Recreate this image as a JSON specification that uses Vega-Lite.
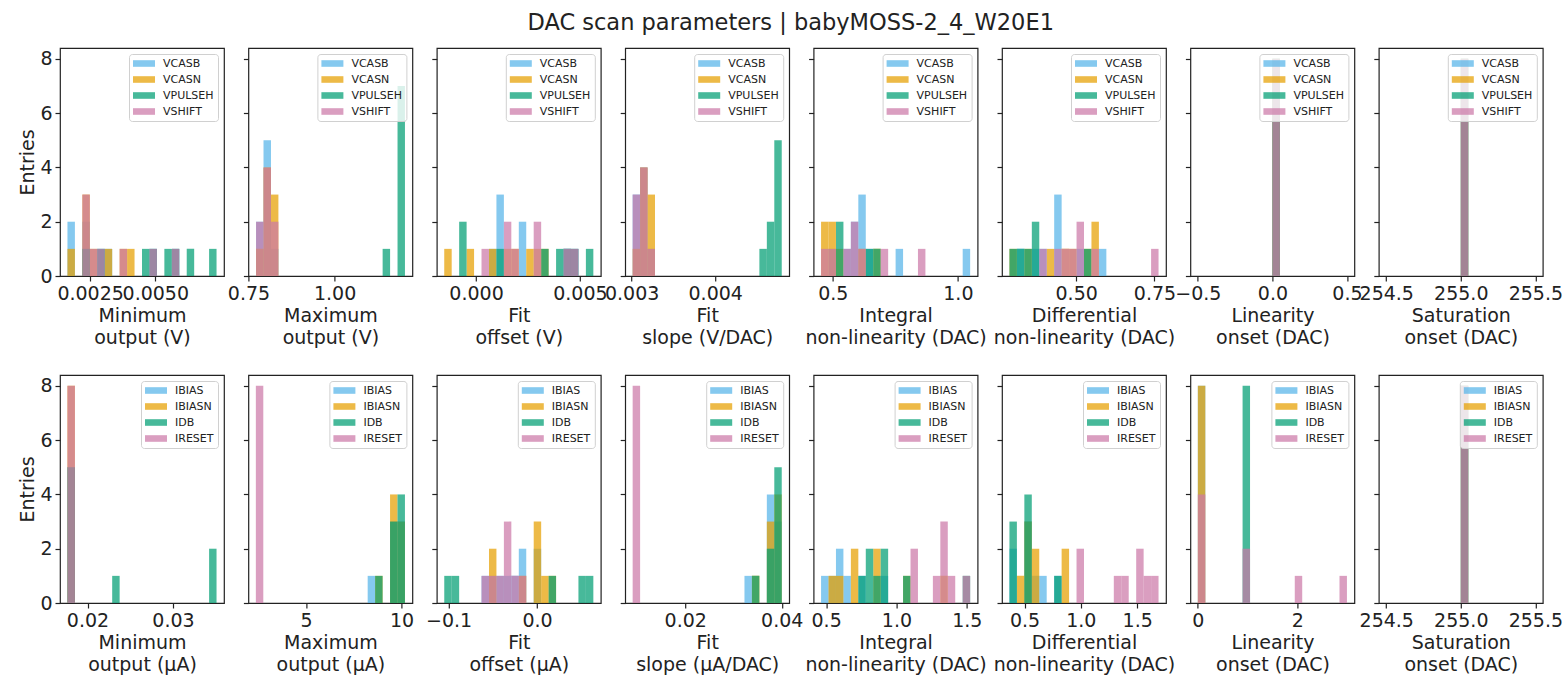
{
  "$schema": "https://vega.github.io/schema/vega-lite/v6.json",
  "padding": {"left": 18, "top": 11, "right": 5, "bottom": 5},
  "title": {"text": "DAC scan parameters | babyMOSS-2_4_W20E1", "fontSize": 22.5, "fontWeight": "normal", "color": "#222", "anchor": "middle", "offset": 13},
  "data": {"name": "h"},
  "datasets": {
    "h": [
      {"p":"T1","s":"VCASB","x0":0.00163,"x1":0.001916,"n":2},
      {"p":"T1","s":"VCASB","x0":0.002202,"x1":0.002488,"n":2},
      {"p":"T1","s":"VCASB","x0":0.002774,"x1":0.00306,"n":1},
      {"p":"T1","s":"VCASB","x0":0.00306,"x1":0.003346,"n":1},
      {"p":"T1","s":"VCASB","x0":0.004776,"x1":0.005062,"n":1},
      {"p":"T1","s":"VCASB","x0":0.005634,"x1":0.00592,"n":1},
      {"p":"T1","s":"VCASN","x0":0.00163,"x1":0.001916,"n":1},
      {"p":"T1","s":"VCASN","x0":0.002202,"x1":0.002488,"n":3},
      {"p":"T1","s":"VCASN","x0":0.002488,"x1":0.002774,"n":1},
      {"p":"T1","s":"VCASN","x0":0.00306,"x1":0.003346,"n":1},
      {"p":"T1","s":"VCASN","x0":0.003632,"x1":0.003918,"n":1},
      {"p":"T1","s":"VCASN","x0":0.003918,"x1":0.004204,"n":1},
      {"p":"T1","s":"VPULSEH","x0":0.002202,"x1":0.002488,"n":1},
      {"p":"T1","s":"VPULSEH","x0":0.002774,"x1":0.00306,"n":1},
      {"p":"T1","s":"VPULSEH","x0":0.00449,"x1":0.004776,"n":1},
      {"p":"T1","s":"VPULSEH","x0":0.004776,"x1":0.005062,"n":1},
      {"p":"T1","s":"VPULSEH","x0":0.005348,"x1":0.005634,"n":1},
      {"p":"T1","s":"VPULSEH","x0":0.005634,"x1":0.00592,"n":1},
      {"p":"T1","s":"VPULSEH","x0":0.006206,"x1":0.006492,"n":1},
      {"p":"T1","s":"VPULSEH","x0":0.007064,"x1":0.00735,"n":1},
      {"p":"T1","s":"VSHIFT","x0":0.002202,"x1":0.002488,"n":3},
      {"p":"T1","s":"VSHIFT","x0":0.002488,"x1":0.002774,"n":1},
      {"p":"T1","s":"VSHIFT","x0":0.002774,"x1":0.00306,"n":1},
      {"p":"T1","s":"VSHIFT","x0":0.003632,"x1":0.003918,"n":1},
      {"p":"T1","s":"VSHIFT","x0":0.004776,"x1":0.005062,"n":1},
      {"p":"T1","s":"VSHIFT","x0":0.005634,"x1":0.00592,"n":1},

      {"p":"T2","s":"VCASB","x0":0.772,"x1":0.7936,"n":2},
      {"p":"T2","s":"VCASB","x0":0.7936,"x1":0.8153,"n":5},
      {"p":"T2","s":"VCASB","x0":0.8153,"x1":0.8369,"n":1},
      {"p":"T2","s":"VCASN","x0":0.772,"x1":0.7936,"n":1},
      {"p":"T2","s":"VCASN","x0":0.7936,"x1":0.8153,"n":4},
      {"p":"T2","s":"VCASN","x0":0.8153,"x1":0.8369,"n":3},
      {"p":"T2","s":"VPULSEH","x0":1.1396,"x1":1.1613,"n":1},
      {"p":"T2","s":"VPULSEH","x0":1.1829,"x1":1.2045,"n":7},
      {"p":"T2","s":"VSHIFT","x0":0.772,"x1":0.7936,"n":2},
      {"p":"T2","s":"VSHIFT","x0":0.7936,"x1":0.8153,"n":4},
      {"p":"T2","s":"VSHIFT","x0":0.8153,"x1":0.8369,"n":2},

      {"p":"T3","s":"VCASB","x0":0.000621,"x1":0.00098,"n":1},
      {"p":"T3","s":"VCASB","x0":0.00098,"x1":0.001339,"n":3},
      {"p":"T3","s":"VCASB","x0":0.002057,"x1":0.002415,"n":2},
      {"p":"T3","s":"VCASB","x0":0.00421,"x1":0.004568,"n":1},
      {"p":"T3","s":"VCASB","x0":0.004568,"x1":0.004927,"n":1},
      {"p":"T3","s":"VCASN","x0":-0.001532,"x1":-0.001173,"n":1},
      {"p":"T3","s":"VCASN","x0":-0.000455,"x1":-0.000096,"n":1},
      {"p":"T3","s":"VCASN","x0":0.000621,"x1":0.00098,"n":1},
      {"p":"T3","s":"VCASN","x0":0.001339,"x1":0.001697,"n":1},
      {"p":"T3","s":"VCASN","x0":0.001697,"x1":0.002057,"n":1},
      {"p":"T3","s":"VCASN","x0":0.002415,"x1":0.002774,"n":1},
      {"p":"T3","s":"VCASN","x0":0.002774,"x1":0.003133,"n":1},
      {"p":"T3","s":"VCASN","x0":0.003133,"x1":0.003492,"n":1},
      {"p":"T3","s":"VPULSEH","x0":-0.000814,"x1":-0.000455,"n":2},
      {"p":"T3","s":"VPULSEH","x0":0.00098,"x1":0.001339,"n":1},
      {"p":"T3","s":"VPULSEH","x0":0.003133,"x1":0.003492,"n":1},
      {"p":"T3","s":"VPULSEH","x0":0.003851,"x1":0.00421,"n":1},
      {"p":"T3","s":"VPULSEH","x0":0.00421,"x1":0.004568,"n":1},
      {"p":"T3","s":"VPULSEH","x0":0.004568,"x1":0.004927,"n":1},
      {"p":"T3","s":"VPULSEH","x0":0.005286,"x1":0.005645,"n":1},
      {"p":"T3","s":"VSHIFT","x0":0.000262,"x1":0.000621,"n":1},
      {"p":"T3","s":"VSHIFT","x0":0.001339,"x1":0.001697,"n":2},
      {"p":"T3","s":"VSHIFT","x0":0.001697,"x1":0.002057,"n":1},
      {"p":"T3","s":"VSHIFT","x0":0.002774,"x1":0.003133,"n":2},
      {"p":"T3","s":"VSHIFT","x0":0.00421,"x1":0.004568,"n":1},
      {"p":"T3","s":"VSHIFT","x0":0.004568,"x1":0.004927,"n":1},

      {"p":"T4","s":"VCASB","x0":0.003012,"x1":0.0031012,"n":3},
      {"p":"T4","s":"VCASB","x0":0.0031012,"x1":0.0031904,"n":4},
      {"p":"T4","s":"VCASB","x0":0.0031904,"x1":0.0032796,"n":1},
      {"p":"T4","s":"VCASN","x0":0.003012,"x1":0.0031012,"n":1},
      {"p":"T4","s":"VCASN","x0":0.0031012,"x1":0.0031904,"n":4},
      {"p":"T4","s":"VCASN","x0":0.0031904,"x1":0.0032796,"n":3},
      {"p":"T4","s":"VPULSEH","x0":0.0045284,"x1":0.0046176,"n":1},
      {"p":"T4","s":"VPULSEH","x0":0.0046176,"x1":0.0047068,"n":2},
      {"p":"T4","s":"VPULSEH","x0":0.0047068,"x1":0.004796,"n":5},
      {"p":"T4","s":"VSHIFT","x0":0.003012,"x1":0.0031012,"n":3},
      {"p":"T4","s":"VSHIFT","x0":0.0031012,"x1":0.0031904,"n":4},
      {"p":"T4","s":"VSHIFT","x0":0.0031904,"x1":0.0032796,"n":1},

      {"p":"T5","s":"VCASB","x0":0.4831,"x1":0.5129,"n":1},
      {"p":"T5","s":"VCASB","x0":0.5427,"x1":0.5724,"n":1},
      {"p":"T5","s":"VCASB","x0":0.5724,"x1":0.6022,"n":2},
      {"p":"T5","s":"VCASB","x0":0.6022,"x1":0.632,"n":3},
      {"p":"T5","s":"VCASB","x0":0.632,"x1":0.6618,"n":1},
      {"p":"T5","s":"VCASB","x0":0.7512,"x1":0.781,"n":1},
      {"p":"T5","s":"VCASB","x0":1.0192,"x1":1.049,"n":1},
      {"p":"T5","s":"VCASN","x0":0.4533,"x1":0.4831,"n":2},
      {"p":"T5","s":"VCASN","x0":0.4831,"x1":0.5129,"n":2},
      {"p":"T5","s":"VCASN","x0":0.5129,"x1":0.5427,"n":1},
      {"p":"T5","s":"VCASN","x0":0.6022,"x1":0.632,"n":1},
      {"p":"T5","s":"VCASN","x0":0.6618,"x1":0.6916,"n":1},
      {"p":"T5","s":"VPULSEH","x0":0.5129,"x1":0.5427,"n":2},
      {"p":"T5","s":"VPULSEH","x0":0.632,"x1":0.6618,"n":1},
      {"p":"T5","s":"VPULSEH","x0":0.6618,"x1":0.6916,"n":1},
      {"p":"T5","s":"VSHIFT","x0":0.4533,"x1":0.4831,"n":1},
      {"p":"T5","s":"VSHIFT","x0":0.4831,"x1":0.5129,"n":1},
      {"p":"T5","s":"VSHIFT","x0":0.5427,"x1":0.5724,"n":1},
      {"p":"T5","s":"VSHIFT","x0":0.5724,"x1":0.6022,"n":2},
      {"p":"T5","s":"VSHIFT","x0":0.6022,"x1":0.632,"n":1},
      {"p":"T5","s":"VSHIFT","x0":0.6916,"x1":0.7214,"n":1},
      {"p":"T5","s":"VSHIFT","x0":0.8405,"x1":0.8703,"n":1},

      {"p":"T6","s":"VCASB","x0":0.3108,"x1":0.3346,"n":1},
      {"p":"T6","s":"VCASB","x0":0.3584,"x1":0.3822,"n":1},
      {"p":"T6","s":"VCASB","x0":0.3822,"x1":0.406,"n":1},
      {"p":"T6","s":"VCASB","x0":0.4298,"x1":0.4536,"n":3},
      {"p":"T6","s":"VCASB","x0":0.5012,"x1":0.525,"n":1},
      {"p":"T6","s":"VCASB","x0":0.5726,"x1":0.5964,"n":1},
      {"p":"T6","s":"VCASN","x0":0.287,"x1":0.3108,"n":1},
      {"p":"T6","s":"VCASN","x0":0.3346,"x1":0.3584,"n":1},
      {"p":"T6","s":"VCASN","x0":0.406,"x1":0.4298,"n":1},
      {"p":"T6","s":"VCASN","x0":0.4536,"x1":0.4774,"n":1},
      {"p":"T6","s":"VCASN","x0":0.4774,"x1":0.5012,"n":1},
      {"p":"T6","s":"VCASN","x0":0.525,"x1":0.5488,"n":1},
      {"p":"T6","s":"VCASN","x0":0.5488,"x1":0.5726,"n":2},
      {"p":"T6","s":"VPULSEH","x0":0.287,"x1":0.3108,"n":1},
      {"p":"T6","s":"VPULSEH","x0":0.3108,"x1":0.3346,"n":1},
      {"p":"T6","s":"VPULSEH","x0":0.3346,"x1":0.3584,"n":1},
      {"p":"T6","s":"VPULSEH","x0":0.3584,"x1":0.3822,"n":2},
      {"p":"T6","s":"VPULSEH","x0":0.525,"x1":0.5488,"n":1},
      {"p":"T6","s":"VSHIFT","x0":0.3822,"x1":0.406,"n":1},
      {"p":"T6","s":"VSHIFT","x0":0.4298,"x1":0.4536,"n":1},
      {"p":"T6","s":"VSHIFT","x0":0.4536,"x1":0.4774,"n":1},
      {"p":"T6","s":"VSHIFT","x0":0.4774,"x1":0.5012,"n":1},
      {"p":"T6","s":"VSHIFT","x0":0.5012,"x1":0.525,"n":2},
      {"p":"T6","s":"VSHIFT","x0":0.5488,"x1":0.5726,"n":1},
      {"p":"T6","s":"VSHIFT","x0":0.7392,"x1":0.763,"n":1},

      {"p":"T7","s":"VCASB","x0":0,"x1":0.05,"n":8},
      {"p":"T7","s":"VCASN","x0":0,"x1":0.05,"n":8},
      {"p":"T7","s":"VPULSEH","x0":0,"x1":0.05,"n":8},
      {"p":"T7","s":"VSHIFT","x0":0,"x1":0.05,"n":8},

      {"p":"T8","s":"VCASB","x0":255,"x1":255.05,"n":8},
      {"p":"T8","s":"VCASN","x0":255,"x1":255.05,"n":8},
      {"p":"T8","s":"VPULSEH","x0":255,"x1":255.05,"n":8},
      {"p":"T8","s":"VSHIFT","x0":255,"x1":255.05,"n":8},

      {"p":"B1","s":"IBIAS","x0":0.01765,"x1":0.018523,"n":5},
      {"p":"B1","s":"IBIASN","x0":0.01765,"x1":0.018523,"n":8},
      {"p":"B1","s":"IDB","x0":0.01765,"x1":0.018523,"n":5},
      {"p":"B1","s":"IDB","x0":0.022885,"x1":0.023758,"n":1},
      {"p":"B1","s":"IDB","x0":0.034228,"x1":0.0351,"n":2},
      {"p":"B1","s":"IRESET","x0":0.01765,"x1":0.018523,"n":8},

      {"p":"B2","s":"IBIAS","x0":8.223,"x1":8.614,"n":1},
      {"p":"B2","s":"IBIAS","x0":9.395,"x1":9.785,"n":3},
      {"p":"B2","s":"IBIAS","x0":9.785,"x1":10.175,"n":3},
      {"p":"B2","s":"IBIASN","x0":8.614,"x1":9.004,"n":1},
      {"p":"B2","s":"IBIASN","x0":9.395,"x1":9.785,"n":4},
      {"p":"B2","s":"IBIASN","x0":9.785,"x1":10.175,"n":3},
      {"p":"B2","s":"IDB","x0":8.614,"x1":9.004,"n":1},
      {"p":"B2","s":"IDB","x0":9.395,"x1":9.785,"n":3},
      {"p":"B2","s":"IDB","x0":9.785,"x1":10.175,"n":4},
      {"p":"B2","s":"IRESET","x0":2.368,"x1":2.758,"n":8},

      {"p":"B3","s":"IBIAS","x0":-0.062775,"x1":-0.05435,"n":1},
      {"p":"B3","s":"IBIAS","x0":-0.05435,"x1":-0.045925,"n":1},
      {"p":"B3","s":"IBIAS","x0":-0.045925,"x1":-0.0375,"n":1},
      {"p":"B3","s":"IBIAS","x0":-0.0375,"x1":-0.029075,"n":1},
      {"p":"B3","s":"IBIAS","x0":-0.029075,"x1":-0.02065,"n":1},
      {"p":"B3","s":"IBIAS","x0":-0.02065,"x1":-0.012225,"n":2},
      {"p":"B3","s":"IBIAS","x0":-0.0038,"x1":0.004625,"n":2},
      {"p":"B3","s":"IBIASN","x0":-0.05435,"x1":-0.045925,"n":2},
      {"p":"B3","s":"IBIASN","x0":-0.02065,"x1":-0.012225,"n":1},
      {"p":"B3","s":"IBIASN","x0":-0.0038,"x1":0.004625,"n":3},
      {"p":"B3","s":"IBIASN","x0":0.004625,"x1":0.01305,"n":1},
      {"p":"B3","s":"IBIASN","x0":0.01305,"x1":0.021475,"n":1},
      {"p":"B3","s":"IDB","x0":-0.1049,"x1":-0.096475,"n":1},
      {"p":"B3","s":"IDB","x0":-0.096475,"x1":-0.08805,"n":1},
      {"p":"B3","s":"IDB","x0":0.01305,"x1":0.021475,"n":1},
      {"p":"B3","s":"IDB","x0":0.04675,"x1":0.055175,"n":1},
      {"p":"B3","s":"IDB","x0":0.055175,"x1":0.0636,"n":1},
      {"p":"B3","s":"IRESET","x0":-0.062775,"x1":-0.05435,"n":1},
      {"p":"B3","s":"IRESET","x0":-0.05435,"x1":-0.045925,"n":1},
      {"p":"B3","s":"IRESET","x0":-0.045925,"x1":-0.0375,"n":1},
      {"p":"B3","s":"IRESET","x0":-0.0375,"x1":-0.029075,"n":3},
      {"p":"B3","s":"IRESET","x0":-0.029075,"x1":-0.02065,"n":1},
      {"p":"B3","s":"IRESET","x0":-0.02065,"x1":-0.012225,"n":1},

      {"p":"B4","s":"IBIAS","x0":0.032275,"x1":0.03382,"n":1},
      {"p":"B4","s":"IBIAS","x0":0.03691,"x1":0.038455,"n":4},
      {"p":"B4","s":"IBIAS","x0":0.038455,"x1":0.04,"n":3},
      {"p":"B4","s":"IBIASN","x0":0.03382,"x1":0.035365,"n":1},
      {"p":"B4","s":"IBIASN","x0":0.03691,"x1":0.038455,"n":3},
      {"p":"B4","s":"IBIASN","x0":0.038455,"x1":0.04,"n":4},
      {"p":"B4","s":"IDB","x0":0.03382,"x1":0.035365,"n":1},
      {"p":"B4","s":"IDB","x0":0.03691,"x1":0.038455,"n":2},
      {"p":"B4","s":"IDB","x0":0.038455,"x1":0.04,"n":5},
      {"p":"B4","s":"IRESET","x0":0.0091,"x1":0.010645,"n":8},

      {"p":"B5","s":"IBIAS","x0":0.464,"x1":0.517,"n":1},
      {"p":"B5","s":"IBIAS","x0":0.517,"x1":0.57,"n":1},
      {"p":"B5","s":"IBIAS","x0":0.57,"x1":0.623,"n":2},
      {"p":"B5","s":"IBIAS","x0":0.623,"x1":0.676,"n":1},
      {"p":"B5","s":"IBIAS","x0":0.729,"x1":0.782,"n":1},
      {"p":"B5","s":"IBIAS","x0":0.888,"x1":0.941,"n":1},
      {"p":"B5","s":"IBIASN","x0":0.517,"x1":0.57,"n":1},
      {"p":"B5","s":"IBIASN","x0":0.57,"x1":0.623,"n":1},
      {"p":"B5","s":"IBIASN","x0":0.676,"x1":0.729,"n":2},
      {"p":"B5","s":"IBIASN","x0":0.835,"x1":0.888,"n":2},
      {"p":"B5","s":"IBIASN","x0":1.047,"x1":1.1,"n":1},
      {"p":"B5","s":"IBIASN","x0":1.312,"x1":1.365,"n":1},
      {"p":"B5","s":"IDB","x0":0.729,"x1":0.782,"n":1},
      {"p":"B5","s":"IDB","x0":0.782,"x1":0.835,"n":2},
      {"p":"B5","s":"IDB","x0":0.835,"x1":0.888,"n":1},
      {"p":"B5","s":"IDB","x0":0.888,"x1":0.941,"n":2},
      {"p":"B5","s":"IDB","x0":1.047,"x1":1.1,"n":1},
      {"p":"B5","s":"IDB","x0":1.471,"x1":1.524,"n":1},
      {"p":"B5","s":"IRESET","x0":1.1,"x1":1.153,"n":2},
      {"p":"B5","s":"IRESET","x0":1.259,"x1":1.312,"n":1},
      {"p":"B5","s":"IRESET","x0":1.312,"x1":1.365,"n":3},
      {"p":"B5","s":"IRESET","x0":1.365,"x1":1.418,"n":1},
      {"p":"B5","s":"IRESET","x0":1.471,"x1":1.524,"n":1},

      {"p":"B6","s":"IBIAS","x0":0.366,"x1":0.4322,"n":2},
      {"p":"B6","s":"IBIAS","x0":0.4984,"x1":0.5646,"n":3},
      {"p":"B6","s":"IBIAS","x0":0.5646,"x1":0.6308,"n":1},
      {"p":"B6","s":"IBIAS","x0":0.6308,"x1":0.697,"n":1},
      {"p":"B6","s":"IBIAS","x0":0.7632,"x1":0.8294,"n":1},
      {"p":"B6","s":"IBIASN","x0":0.4322,"x1":0.4984,"n":1},
      {"p":"B6","s":"IBIASN","x0":0.4984,"x1":0.5646,"n":3},
      {"p":"B6","s":"IBIASN","x0":0.5646,"x1":0.6308,"n":2},
      {"p":"B6","s":"IBIASN","x0":0.8294,"x1":0.8956,"n":2},
      {"p":"B6","s":"IDB","x0":0.366,"x1":0.4322,"n":3},
      {"p":"B6","s":"IDB","x0":0.4984,"x1":0.5646,"n":4},
      {"p":"B6","s":"IDB","x0":0.7632,"x1":0.8294,"n":1},
      {"p":"B6","s":"IRESET","x0":0.9618,"x1":1.028,"n":2},
      {"p":"B6","s":"IRESET","x0":1.2928,"x1":1.359,"n":1},
      {"p":"B6","s":"IRESET","x0":1.359,"x1":1.4252,"n":1},
      {"p":"B6","s":"IRESET","x0":1.4914,"x1":1.5576,"n":2},
      {"p":"B6","s":"IRESET","x0":1.5576,"x1":1.6238,"n":1},
      {"p":"B6","s":"IRESET","x0":1.6238,"x1":1.69,"n":1},

      {"p":"B7","s":"IBIAS","x0":0,"x1":0.15,"n":8},
      {"p":"B7","s":"IBIASN","x0":0,"x1":0.15,"n":8},
      {"p":"B7","s":"IDB","x0":0.9,"x1":1.05,"n":8},
      {"p":"B7","s":"IRESET","x0":0,"x1":0.15,"n":4},
      {"p":"B7","s":"IRESET","x0":0.9,"x1":1.05,"n":2},
      {"p":"B7","s":"IRESET","x0":1.95,"x1":2.1,"n":1},
      {"p":"B7","s":"IRESET","x0":2.85,"x1":3.0,"n":1},

      {"p":"B8","s":"IBIAS","x0":255,"x1":255.05,"n":8},
      {"p":"B8","s":"IBIASN","x0":255,"x1":255.05,"n":8},
      {"p":"B8","s":"IDB","x0":255,"x1":255.05,"n":8},
      {"p":"B8","s":"IRESET","x0":255,"x1":255.05,"n":8}
    ]
  },
  "config": {
    "font": "DejaVu Sans",
    "view": {"stroke": "#222", "strokeWidth": 1.2},
    "axis": {"domain": false, "grid": false, "tickColor": "#222", "tickWidth": 1.2, "tickSize": 5, "labelFontSize": 19, "labelColor": "#222", "labelPadding": 3, "titleFontSize": 19, "titleFontWeight": "normal", "titleColor": "#222", "labelFlush": false, "labelOverlap": false, "labelBound": false, "titleLineHeight": 22},
    "axisX": {"titlePadding": 3},
    "axisY": {"titlePadding": 2},
    "legend": {"orient": "top-right", "offset": 6, "padding": 4, "fillColor": "rgba(255,255,255,0.8)", "strokeColor": "#d0d0d0", "cornerRadius": 3, "labelFontSize": 11, "labelColor": "#222", "symbolType": "M-1,-0.6H3V0.6H-1Z", "symbolSize": 121, "symbolOpacity": 0.72, "symbolStrokeWidth": 0, "rowPadding": 4, "labelOffset": 19}
  },
  "resolve": {"scale": {"color": "independent", "x": "independent", "y": "independent"}, "legend": {"color": "independent"}, "axis": {"x": "independent", "y": "independent"}},
  "spacing": 26,
  "vconcat": [
    {
      "bounds": "flush",
      "spacing": 24.4,
      "resolve": {"scale": {"color": "independent", "x": "independent", "y": "independent"}, "legend": {"color": "independent"}, "axis": {"x": "independent", "y": "independent"}},
      "hconcat": [
        {"width": 164, "height": 228, "transform": [{"filter": "datum.p === 'T1'"}], "mark": {"type": "rect", "opacity": 0.72},
         "encoding": {"x": {"field": "x0", "type": "quantitative", "scale": {"domain": [0.001344, 0.007636], "nice": false, "zero": false}, "axis": {"values": [0.0025, 0.005], "format": ".4f", "title": ["Minimum", "output (V)"]}},
          "x2": {"field": "x1"},
          "y": {"field": "n", "type": "quantitative", "scale": {"domain": [0, 8.4], "nice": false}, "axis": {"values": [0, 2, 4, 6, 8], "title": "Entries"}},
          "y2": {"datum": 0},
          "color": {"field": "s", "type": "nominal", "scale": {"domain": ["VCASB", "VCASN", "VPULSEH", "VSHIFT"], "range": ["#56B4E9", "#E69F00", "#009E73", "#CC79A7"]}, "legend": {"title": null}}}},
        {"width": 164, "height": 228, "transform": [{"filter": "datum.p === 'T2'"}], "mark": {"type": "rect", "opacity": 0.72},
         "encoding": {"x": {"field": "x0", "type": "quantitative", "scale": {"domain": [0.7497, 1.2261], "nice": false, "zero": false}, "axis": {"values": [0.75, 1.0], "format": ".2f", "title": ["Maximum", "output (V)"]}},
          "x2": {"field": "x1"},
          "y": {"field": "n", "type": "quantitative", "scale": {"domain": [0, 8.4], "nice": false}, "axis": {"values": [0, 2, 4, 6, 8], "labels": false, "title": null}},
          "y2": {"datum": 0},
          "color": {"field": "s", "type": "nominal", "scale": {"domain": ["VCASB", "VCASN", "VPULSEH", "VSHIFT"], "range": ["#56B4E9", "#E69F00", "#009E73", "#CC79A7"]}, "legend": {"title": null}}}},
        {"width": 164, "height": 228, "transform": [{"filter": "datum.p === 'T3'"}], "mark": {"type": "rect", "opacity": 0.72},
         "encoding": {"x": {"field": "x0", "type": "quantitative", "scale": {"domain": [-0.00189, 0.006004], "nice": false, "zero": false}, "axis": {"values": [0, 0.005], "format": ".3f", "title": ["Fit", "offset (V)"]}},
          "x2": {"field": "x1"},
          "y": {"field": "n", "type": "quantitative", "scale": {"domain": [0, 8.4], "nice": false}, "axis": {"values": [0, 2, 4, 6, 8], "labels": false, "title": null}},
          "y2": {"datum": 0},
          "color": {"field": "s", "type": "nominal", "scale": {"domain": ["VCASB", "VCASN", "VPULSEH", "VSHIFT"], "range": ["#56B4E9", "#E69F00", "#009E73", "#CC79A7"]}, "legend": {"title": null}}}},
        {"width": 164, "height": 228, "transform": [{"filter": "datum.p === 'T4'"}], "mark": {"type": "rect", "opacity": 0.72},
         "encoding": {"x": {"field": "x0", "type": "quantitative", "scale": {"domain": [0.0029228, 0.0048852], "nice": false, "zero": false}, "axis": {"values": [0.003, 0.004], "format": ".3f", "title": ["Fit", "slope (V/DAC)"]}},
          "x2": {"field": "x1"},
          "y": {"field": "n", "type": "quantitative", "scale": {"domain": [0, 8.4], "nice": false}, "axis": {"values": [0, 2, 4, 6, 8], "labels": false, "title": null}},
          "y2": {"datum": 0},
          "color": {"field": "s", "type": "nominal", "scale": {"domain": ["VCASB", "VCASN", "VPULSEH", "VSHIFT"], "range": ["#56B4E9", "#E69F00", "#009E73", "#CC79A7"]}, "legend": {"title": null}}}},
        {"width": 164, "height": 228, "transform": [{"filter": "datum.p === 'T5'"}], "mark": {"type": "rect", "opacity": 0.72},
         "encoding": {"x": {"field": "x0", "type": "quantitative", "scale": {"domain": [0.42352, 1.07878], "nice": false, "zero": false}, "axis": {"values": [0.5, 1.0], "format": ".1f", "title": ["Integral", "non-linearity (DAC)"]}},
          "x2": {"field": "x1"},
          "y": {"field": "n", "type": "quantitative", "scale": {"domain": [0, 8.4], "nice": false}, "axis": {"values": [0, 2, 4, 6, 8], "labels": false, "title": null}},
          "y2": {"datum": 0},
          "color": {"field": "s", "type": "nominal", "scale": {"domain": ["VCASB", "VCASN", "VPULSEH", "VSHIFT"], "range": ["#56B4E9", "#E69F00", "#009E73", "#CC79A7"]}, "legend": {"title": null}}}},
        {"width": 164, "height": 228, "transform": [{"filter": "datum.p === 'T6'"}], "mark": {"type": "rect", "opacity": 0.72},
         "encoding": {"x": {"field": "x0", "type": "quantitative", "scale": {"domain": [0.2632, 0.7868], "nice": false, "zero": false}, "axis": {"values": [0.5, 0.75], "format": ".2f", "title": ["Differential", "non-linearity (DAC)"]}},
          "x2": {"field": "x1"},
          "y": {"field": "n", "type": "quantitative", "scale": {"domain": [0, 8.4], "nice": false}, "axis": {"values": [0, 2, 4, 6, 8], "labels": false, "title": null}},
          "y2": {"datum": 0},
          "color": {"field": "s", "type": "nominal", "scale": {"domain": ["VCASB", "VCASN", "VPULSEH", "VSHIFT"], "range": ["#56B4E9", "#E69F00", "#009E73", "#CC79A7"]}, "legend": {"title": null}}}},
        {"width": 164, "height": 228, "transform": [{"filter": "datum.p === 'T7'"}], "mark": {"type": "rect", "opacity": 0.72},
         "encoding": {"x": {"field": "x0", "type": "quantitative", "scale": {"domain": [-0.55, 0.55], "nice": false, "zero": false}, "axis": {"values": [-0.5, 0, 0.5], "format": ".1f", "title": ["Linearity", "onset (DAC)"]}},
          "x2": {"field": "x1"},
          "y": {"field": "n", "type": "quantitative", "scale": {"domain": [0, 8.4], "nice": false}, "axis": {"values": [0, 2, 4, 6, 8], "labels": false, "title": null}},
          "y2": {"datum": 0},
          "color": {"field": "s", "type": "nominal", "scale": {"domain": ["VCASB", "VCASN", "VPULSEH", "VSHIFT"], "range": ["#56B4E9", "#E69F00", "#009E73", "#CC79A7"]}, "legend": {"title": null}}}},
        {"width": 164, "height": 228, "transform": [{"filter": "datum.p === 'T8'"}], "mark": {"type": "rect", "opacity": 0.72},
         "encoding": {"x": {"field": "x0", "type": "quantitative", "scale": {"domain": [254.45, 255.55], "nice": false, "zero": false}, "axis": {"values": [254.5, 255, 255.5], "format": ".1f", "title": ["Saturation", "onset (DAC)"]}},
          "x2": {"field": "x1"},
          "y": {"field": "n", "type": "quantitative", "scale": {"domain": [0, 8.4], "nice": false}, "axis": {"values": [0, 2, 4, 6, 8], "labels": false, "title": null}},
          "y2": {"datum": 0},
          "color": {"field": "s", "type": "nominal", "scale": {"domain": ["VCASB", "VCASN", "VPULSEH", "VSHIFT"], "range": ["#56B4E9", "#E69F00", "#009E73", "#CC79A7"]}, "legend": {"title": null}}}}
      ]
    },
    {
      "bounds": "flush",
      "spacing": 24.4,
      "resolve": {"scale": {"color": "independent", "x": "independent", "y": "independent"}, "legend": {"color": "independent"}, "axis": {"x": "independent", "y": "independent"}},
      "hconcat": [
        {"width": 164, "height": 228, "transform": [{"filter": "datum.p === 'B1'"}], "mark": {"type": "rect", "opacity": 0.72},
         "encoding": {"x": {"field": "x0", "type": "quantitative", "scale": {"domain": [0.016778, 0.035973], "nice": false, "zero": false}, "axis": {"values": [0.02, 0.03], "format": ".2f", "title": ["Minimum", "output (µA)"]}},
          "x2": {"field": "x1"},
          "y": {"field": "n", "type": "quantitative", "scale": {"domain": [0, 8.4], "nice": false}, "axis": {"values": [0, 2, 4, 6, 8], "title": "Entries"}},
          "y2": {"datum": 0},
          "color": {"field": "s", "type": "nominal", "scale": {"domain": ["IBIAS", "IBIASN", "IDB", "IRESET"], "range": ["#56B4E9", "#E69F00", "#009E73", "#CC79A7"]}, "legend": {"title": null}}}},
        {"width": 164, "height": 228, "transform": [{"filter": "datum.p === 'B2'"}], "mark": {"type": "rect", "opacity": 0.72},
         "encoding": {"x": {"field": "x0", "type": "quantitative", "scale": {"domain": [1.978, 10.565], "nice": false, "zero": false}, "axis": {"values": [5, 10], "format": "d", "title": ["Maximum", "output (µA)"]}},
          "x2": {"field": "x1"},
          "y": {"field": "n", "type": "quantitative", "scale": {"domain": [0, 8.4], "nice": false}, "axis": {"values": [0, 2, 4, 6, 8], "labels": false, "title": null}},
          "y2": {"datum": 0},
          "color": {"field": "s", "type": "nominal", "scale": {"domain": ["IBIAS", "IBIASN", "IDB", "IRESET"], "range": ["#56B4E9", "#E69F00", "#009E73", "#CC79A7"]}, "legend": {"title": null}}}},
        {"width": 164, "height": 228, "transform": [{"filter": "datum.p === 'B3'"}], "mark": {"type": "rect", "opacity": 0.72},
         "encoding": {"x": {"field": "x0", "type": "quantitative", "scale": {"domain": [-0.11333, 0.07203], "nice": false, "zero": false}, "axis": {"values": [-0.1, 0], "format": ".1f", "title": ["Fit", "offset (µA)"]}},
          "x2": {"field": "x1"},
          "y": {"field": "n", "type": "quantitative", "scale": {"domain": [0, 8.4], "nice": false}, "axis": {"values": [0, 2, 4, 6, 8], "labels": false, "title": null}},
          "y2": {"datum": 0},
          "color": {"field": "s", "type": "nominal", "scale": {"domain": ["IBIAS", "IBIASN", "IDB", "IRESET"], "range": ["#56B4E9", "#E69F00", "#009E73", "#CC79A7"]}, "legend": {"title": null}}}},
        {"width": 164, "height": 228, "transform": [{"filter": "datum.p === 'B4'"}], "mark": {"type": "rect", "opacity": 0.72},
         "encoding": {"x": {"field": "x0", "type": "quantitative", "scale": {"domain": [0.007555, 0.041545], "nice": false, "zero": false}, "axis": {"values": [0.02, 0.04], "format": ".2f", "title": ["Fit", "slope (µA/DAC)"]}},
          "x2": {"field": "x1"},
          "y": {"field": "n", "type": "quantitative", "scale": {"domain": [0, 8.4], "nice": false}, "axis": {"values": [0, 2, 4, 6, 8], "labels": false, "title": null}},
          "y2": {"datum": 0},
          "color": {"field": "s", "type": "nominal", "scale": {"domain": ["IBIAS", "IBIASN", "IDB", "IRESET"], "range": ["#56B4E9", "#E69F00", "#009E73", "#CC79A7"]}, "legend": {"title": null}}}},
        {"width": 164, "height": 228, "transform": [{"filter": "datum.p === 'B5'"}], "mark": {"type": "rect", "opacity": 0.72},
         "encoding": {"x": {"field": "x0", "type": "quantitative", "scale": {"domain": [0.411, 1.577], "nice": false, "zero": false}, "axis": {"values": [0.5, 1.0, 1.5], "format": ".1f", "title": ["Integral", "non-linearity (DAC)"]}},
          "x2": {"field": "x1"},
          "y": {"field": "n", "type": "quantitative", "scale": {"domain": [0, 8.4], "nice": false}, "axis": {"values": [0, 2, 4, 6, 8], "labels": false, "title": null}},
          "y2": {"datum": 0},
          "color": {"field": "s", "type": "nominal", "scale": {"domain": ["IBIAS", "IBIASN", "IDB", "IRESET"], "range": ["#56B4E9", "#E69F00", "#009E73", "#CC79A7"]}, "legend": {"title": null}}}},
        {"width": 164, "height": 228, "transform": [{"filter": "datum.p === 'B6'"}], "mark": {"type": "rect", "opacity": 0.72},
         "encoding": {"x": {"field": "x0", "type": "quantitative", "scale": {"domain": [0.3, 1.7562], "nice": false, "zero": false}, "axis": {"values": [0.5, 1.0, 1.5], "format": ".1f", "title": ["Differential", "non-linearity (DAC)"]}},
          "x2": {"field": "x1"},
          "y": {"field": "n", "type": "quantitative", "scale": {"domain": [0, 8.4], "nice": false}, "axis": {"values": [0, 2, 4, 6, 8], "labels": false, "title": null}},
          "y2": {"datum": 0},
          "color": {"field": "s", "type": "nominal", "scale": {"domain": ["IBIAS", "IBIASN", "IDB", "IRESET"], "range": ["#56B4E9", "#E69F00", "#009E73", "#CC79A7"]}, "legend": {"title": null}}}},
        {"width": 164, "height": 228, "transform": [{"filter": "datum.p === 'B7'"}], "mark": {"type": "rect", "opacity": 0.72},
         "encoding": {"x": {"field": "x0", "type": "quantitative", "scale": {"domain": [-0.15, 3.15], "nice": false, "zero": false}, "axis": {"values": [0, 2], "format": "d", "title": ["Linearity", "onset (DAC)"]}},
          "x2": {"field": "x1"},
          "y": {"field": "n", "type": "quantitative", "scale": {"domain": [0, 8.4], "nice": false}, "axis": {"values": [0, 2, 4, 6, 8], "labels": false, "title": null}},
          "y2": {"datum": 0},
          "color": {"field": "s", "type": "nominal", "scale": {"domain": ["IBIAS", "IBIASN", "IDB", "IRESET"], "range": ["#56B4E9", "#E69F00", "#009E73", "#CC79A7"]}, "legend": {"title": null}}}},
        {"width": 164, "height": 228, "transform": [{"filter": "datum.p === 'B8'"}], "mark": {"type": "rect", "opacity": 0.72},
         "encoding": {"x": {"field": "x0", "type": "quantitative", "scale": {"domain": [254.45, 255.55], "nice": false, "zero": false}, "axis": {"values": [254.5, 255, 255.5], "format": ".1f", "title": ["Saturation", "onset (DAC)"]}},
          "x2": {"field": "x1"},
          "y": {"field": "n", "type": "quantitative", "scale": {"domain": [0, 8.4], "nice": false}, "axis": {"values": [0, 2, 4, 6, 8], "labels": false, "title": null}},
          "y2": {"datum": 0},
          "color": {"field": "s", "type": "nominal", "scale": {"domain": ["IBIAS", "IBIASN", "IDB", "IRESET"], "range": ["#56B4E9", "#E69F00", "#009E73", "#CC79A7"]}, "legend": {"title": null}}}}
      ]
    }
  ]
}
